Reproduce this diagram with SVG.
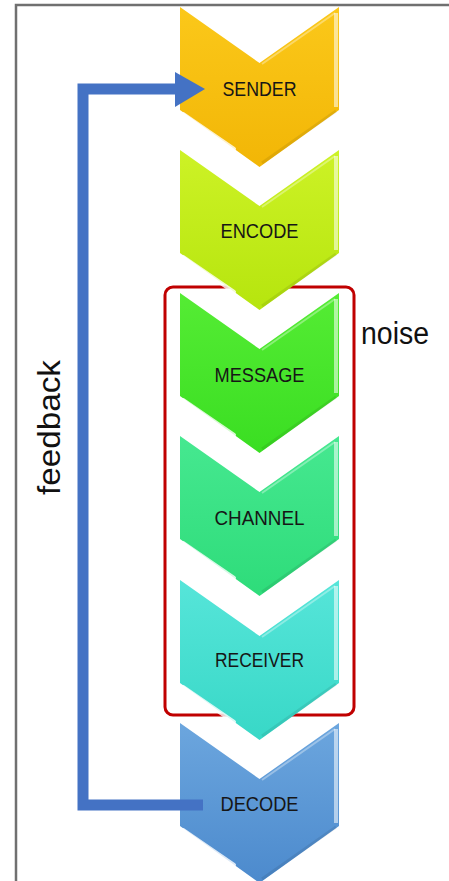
<svg xmlns="http://www.w3.org/2000/svg" width="449" height="881" viewBox="0 0 449 881">
  <defs>
    <linearGradient id="gSender" x1="0" y1="0" x2="0" y2="1">
      <stop offset="0" stop-color="#FBC81A"/>
      <stop offset="1" stop-color="#F2B606"/>
    </linearGradient>
    <linearGradient id="gEncode" x1="0" y1="0" x2="0" y2="1">
      <stop offset="0" stop-color="#CDF226"/>
      <stop offset="1" stop-color="#B6E50E"/>
    </linearGradient>
    <linearGradient id="gMessage" x1="0" y1="0" x2="0" y2="1">
      <stop offset="0" stop-color="#55EC34"/>
      <stop offset="1" stop-color="#3ADE22"/>
    </linearGradient>
    <linearGradient id="gChannel" x1="0" y1="0" x2="0" y2="1">
      <stop offset="0" stop-color="#46E890"/>
      <stop offset="1" stop-color="#2EDC7A"/>
    </linearGradient>
    <linearGradient id="gReceiver" x1="0" y1="0" x2="0" y2="1">
      <stop offset="0" stop-color="#56E5D9"/>
      <stop offset="1" stop-color="#38D8C7"/>
    </linearGradient>
    <linearGradient id="gDecode" x1="0" y1="0" x2="0" y2="1">
      <stop offset="0" stop-color="#6CA6DE"/>
      <stop offset="1" stop-color="#4C8ACD"/>
    </linearGradient>
    <path id="chev" d="M180,0 L259.5,56 L339,0 L339,103 L259.5,160 L180,103 Z"/>
    <g id="bevel">
      <path d="M183,107 L234,142" stroke="#FFFFFF" stroke-opacity="0.8" stroke-width="4" stroke-linecap="round" fill="none"/>
      <path d="M336,6 L336,100" stroke="#FFFFFF" stroke-opacity="0.55" stroke-width="4" fill="none"/>
      <path d="M262,57 L335,6" stroke="#FFFFFF" stroke-opacity="0.35" stroke-width="2" fill="none"/>
      <path d="M262,156 L336,104" stroke="#000000" stroke-opacity="0.08" stroke-width="3" fill="none"/>
    </g>
  </defs>
  <style>
    .lbl { font-family: "Liberation Sans", Arial, sans-serif; font-size: 21px; fill: #161616; text-anchor: middle; }
    .big { font-family: "Liberation Sans", Arial, sans-serif; font-size: 31px; fill: #111; }
    .conn { fill: none; stroke: #4472C4; stroke-width: 11; stroke-linejoin: miter; }
  </style>

  <rect width="449" height="881" fill="#FFFFFF"/>
  <path d="M16,881 L16,5 L449,5" fill="none" stroke="#707070" stroke-width="2.5"/>

  <g id="noise">
    <rect x="165" y="287" width="189" height="428" rx="8" ry="8" fill="none" stroke="#C00000" stroke-width="3"/>
    <text class="big" x="361" y="344" textLength="68" lengthAdjust="spacingAndGlyphs">noise</text>
  </g>

  <g id="sender" transform="translate(0,7)">
    <use href="#chev" fill="url(#gSender)"/>
    <use href="#bevel"/>
    <text class="lbl" x="259.5" y="89" textLength="74" lengthAdjust="spacingAndGlyphs">SENDER</text>
  </g>
  <g id="encode" transform="translate(0,150)">
    <use href="#chev" fill="url(#gEncode)"/>
    <use href="#bevel"/>
    <text class="lbl" x="259.5" y="88" textLength="78" lengthAdjust="spacingAndGlyphs">ENCODE</text>
  </g>
  <g id="message" transform="translate(0,293)">
    <use href="#chev" fill="url(#gMessage)"/>
    <use href="#bevel"/>
    <text class="lbl" x="259.5" y="89" textLength="90" lengthAdjust="spacingAndGlyphs">MESSAGE</text>
  </g>
  <g id="channel" transform="translate(0,436)">
    <use href="#chev" fill="url(#gChannel)"/>
    <use href="#bevel"/>
    <text class="lbl" x="259.5" y="89" textLength="90" lengthAdjust="spacingAndGlyphs">CHANNEL</text>
  </g>
  <g id="receiver" transform="translate(0,580)">
    <use href="#chev" fill="url(#gReceiver)"/>
    <use href="#bevel"/>
    <text class="lbl" x="259.5" y="87" textLength="89" lengthAdjust="spacingAndGlyphs">RECEIVER</text>
  </g>
  <g id="decode" transform="translate(0,723)">
    <use href="#chev" fill="url(#gDecode)"/>
    <use href="#bevel"/>
    <text class="lbl" x="259.5" y="88" textLength="78" lengthAdjust="spacingAndGlyphs">DECODE</text>
  </g>

  <g id="connectors">
    <path class="conn" d="M203,805 L83,805 L83,89 L177,89"/>
    <polygon points="175,72 205,89 175,107" fill="#4472C4"/>
    <text class="big" transform="translate(60,427.5) rotate(-90)" text-anchor="middle" textLength="135" lengthAdjust="spacingAndGlyphs">feedback</text>
  </g>
</svg>
